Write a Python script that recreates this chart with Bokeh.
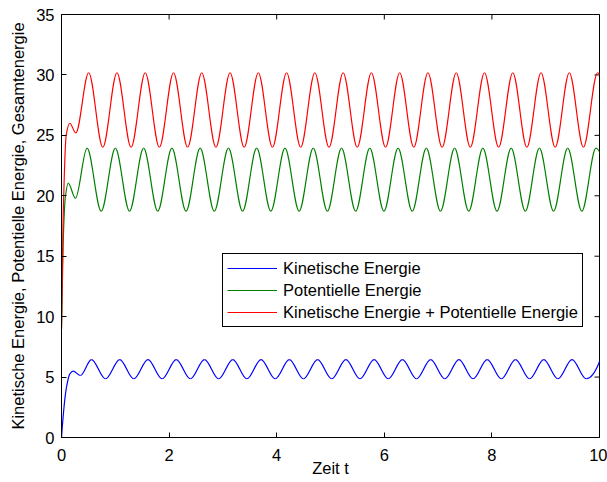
import numpy as np
from bokeh.plotting import figure
from bokeh.models import Range1d, Legend, LegendItem, FixedTicker
from bokeh.embed import file_html
from bokeh.resources import INLINE

# ---------------- data ----------------
# knots (start-up transient, then successive maxima / minima) of each series
kin_t = [0.000, 0.093, 0.155, 0.217, 0.353,
         0.556, 0.819, 1.082, 1.344, 1.607, 1.870, 2.133, 2.395, 2.658, 2.921,
         3.184, 3.446, 3.709, 3.972, 4.235, 4.497, 4.760, 5.023, 5.286, 5.548,
         5.811, 6.074, 6.337, 6.599, 6.862, 7.125, 7.388, 7.650, 7.913, 8.176,
         8.439, 8.701, 8.964, 9.227, 9.490, 9.752, 10.015]
kin_v = [0.00, 4.16, 5.27, 5.49, 5.13,
         6.45, 4.86, 6.45, 4.86, 6.45, 4.86, 6.45, 4.86, 6.45, 4.86,
         6.45, 4.86, 6.45, 4.86, 6.45, 4.86, 6.45, 4.86, 6.45, 4.86,
         6.45, 4.86, 6.45, 4.86, 6.45, 4.86, 6.45, 4.86, 6.45, 4.86,
         6.45, 4.86, 6.45, 4.86, 6.45, 4.86, 6.45]

pot_t = [0.000, 0.030, 0.070, 0.124, 0.260,
         0.475, 0.738, 1.001, 1.264, 1.526, 1.789, 2.052, 2.315, 2.577, 2.840,
         3.103, 3.366, 3.628, 3.891, 4.154, 4.417, 4.679, 4.942, 5.205, 5.468,
         5.730, 5.993, 6.256, 6.519, 6.781, 7.044, 7.307, 7.570, 7.832, 8.095,
         8.358, 8.621, 8.883, 9.146, 9.409, 9.672, 9.934, 10.197]
pot_v = [9.00, 16.00, 19.80, 21.04, 19.80,
         23.94, 18.73, 23.94, 18.73, 23.94, 18.73, 23.94, 18.73, 23.94, 18.73,
         23.94, 18.73, 23.94, 18.73, 23.94, 18.73, 23.94, 18.73, 23.94, 18.73,
         23.94, 18.73, 23.94, 18.73, 23.94, 18.73, 23.94, 18.73, 23.94, 18.73,
         23.94, 18.73, 23.94, 18.73, 23.94, 18.73, 23.94, 18.73]

tot_t = [0.000, 0.030, 0.087, 0.154, 0.266,
         0.505, 0.768, 1.031, 1.293, 1.556, 1.819, 2.082, 2.344, 2.607, 2.870,
         3.133, 3.395, 3.658, 3.921, 4.184, 4.446, 4.709, 4.972, 5.235, 5.497,
         5.760, 6.023, 6.286, 6.548, 6.811, 7.074, 7.337, 7.599, 7.862, 8.125,
         8.388, 8.650, 8.913, 9.176, 9.439, 9.701, 9.964, 10.227]
tot_v = [9.00, 18.00, 25.00, 26.00, 25.20,
         30.18, 24.02, 30.18, 24.02, 30.18, 24.02, 30.18, 24.02, 30.18, 24.02,
         30.18, 24.02, 30.18, 24.02, 30.18, 24.02, 30.18, 24.02, 30.18, 24.02,
         30.18, 24.02, 30.18, 24.02, 30.18, 24.02, 30.18, 24.02, 30.18, 24.02,
         30.18, 24.02, 30.18, 24.02, 30.18, 24.02, 30.18, 24.02]

labels = ["Kinetische Energie", "Potentielle Energie",
          "Kinetische Energie + Potentielle Energie"]
x_ticks = [0, 2, 4, 6, 8, 10]
y_ticks = [0, 5, 10, 15, 20, 25, 30, 35]
x_min, x_max = 0, 10
y_min, y_max = 0, 35
x_label = "Zeit t"
y_label = "Kinetische Energie, Potentielle Energie, Gesamtenergie"

# ---------------- smooth rendering (monotone cubic tangents) ----------------
def _end_slope(h0, h1, d0, d1):
    m = ((2 * h0 + h1) * d0 - h0 * d1) / (h0 + h1)
    if np.sign(m) != np.sign(d0):
        return 0.0
    if np.sign(d0) != np.sign(d1) and abs(m) > abs(3 * d0):
        return 3 * d0
    return m

def bezier_segments(t, v):
    t = np.asarray(t, float); v = np.asarray(v, float)
    h = np.diff(t); d = np.diff(v) / h
    n = len(t)
    m = np.zeros(n)
    for k in range(1, n - 1):
        if d[k - 1] * d[k] > 0:
            w1 = 2 * h[k] + h[k - 1]
            w2 = h[k] + 2 * h[k - 1]
            m[k] = (w1 + w2) / (w1 / d[k - 1] + w2 / d[k])
    m[0] = _end_slope(h[0], h[1], d[0], d[1])
    m[-1] = _end_slope(h[-1], h[-2], d[-1], d[-2])
    return dict(x0=t[:-1], y0=v[:-1], x1=t[1:], y1=v[1:],
                cx0=t[:-1] + h / 3, cy0=v[:-1] + m[:-1] * h / 3,
                cx1=t[1:] - h / 3, cy1=v[1:] - m[1:] * h / 3)

FONT = "Liberation Sans"
FS = "16.5px"

p = figure(width=607, height=482, x_range=Range1d(x_min, x_max), y_range=Range1d(y_min, y_max),
           output_backend="svg", toolbar_location=None,
           min_border_left=61, min_border_right=8, min_border_top=14, min_border_bottom=45)
p.xgrid.visible = False
p.ygrid.visible = False
p.outline_line_color = "black"
p.outline_line_width = 1
p.outline_line_alpha = 1
p.background_fill_color = "white"
p.border_fill_color = "white"

def style_axis(ax, ticks):
    ax.ticker = FixedTicker(ticks=ticks)
    ax.axis_line_color = "black"
    ax.major_tick_line_color = "black"
    ax.major_tick_in = 5
    ax.major_tick_out = 0
    ax.minor_tick_line_color = None
    ax.major_label_text_font = FONT
    ax.major_label_text_font_size = FS
    ax.major_label_text_color = "black"
    ax.axis_label_text_font = FONT
    ax.axis_label_text_font_style = "normal"
    ax.axis_label_text_color = "black"
    ax.axis_label_text_font_size = FS

xa = p.xaxis[0]
ya = p.yaxis[0]
style_axis(xa, x_ticks)
style_axis(ya, y_ticks)
xa.axis_label = x_label
ya.axis_label = y_label
xa.major_label_standoff = 11
xa.axis_label_standoff = -5
ya.major_label_standoff = 7
ya.axis_label_standoff = 6

# inward ticks on the top and right edges of the box (clipped to the frame)
p.scatter(x=x_ticks, y=[y_max] * len(x_ticks), marker="dash", angle=np.pi / 2,
          size=10, line_color="black", line_width=1)
p.scatter(x=[x_max] * len(y_ticks), y=y_ticks, marker="dash",
          size=10, line_color="black", line_width=1)

colors = ["#0000ff", "#008000", "#ff0000"]
legend_items = []
for (tt, vv), c, lab in zip([(kin_t, kin_v), (pot_t, pot_v), (tot_t, tot_v)], colors, labels):
    seg = bezier_segments(tt, vv)
    p.bezier(x0=seg["x0"], y0=seg["y0"], x1=seg["x1"], y1=seg["y1"],
             cx0=seg["cx0"], cy0=seg["cy0"], cx1=seg["cx1"], cy1=seg["cy1"],
             line_color=c, line_width=1.2)
    # legend key: a line renderer with no drawable point (NaN), only used for its swatch
    key = p.line(x=[np.nan], y=[np.nan], line_color=c, line_width=1.2)
    legend_items.append(LegendItem(label=lab, renderers=[key]))

legend = Legend(items=legend_items,
                location=(161, 110), glyph_width=50, glyph_height=20, label_height=20,
                padding=4, spacing=2, label_standoff=6, margin=0,
                border_line_color="black", border_line_width=1, border_line_alpha=1,
                background_fill_color="white", background_fill_alpha=1,
                label_text_font=FONT, label_text_font_size=FS, label_text_color="black")
p.add_layout(legend)

open("out.html", "w").write(file_html(p, INLINE))
